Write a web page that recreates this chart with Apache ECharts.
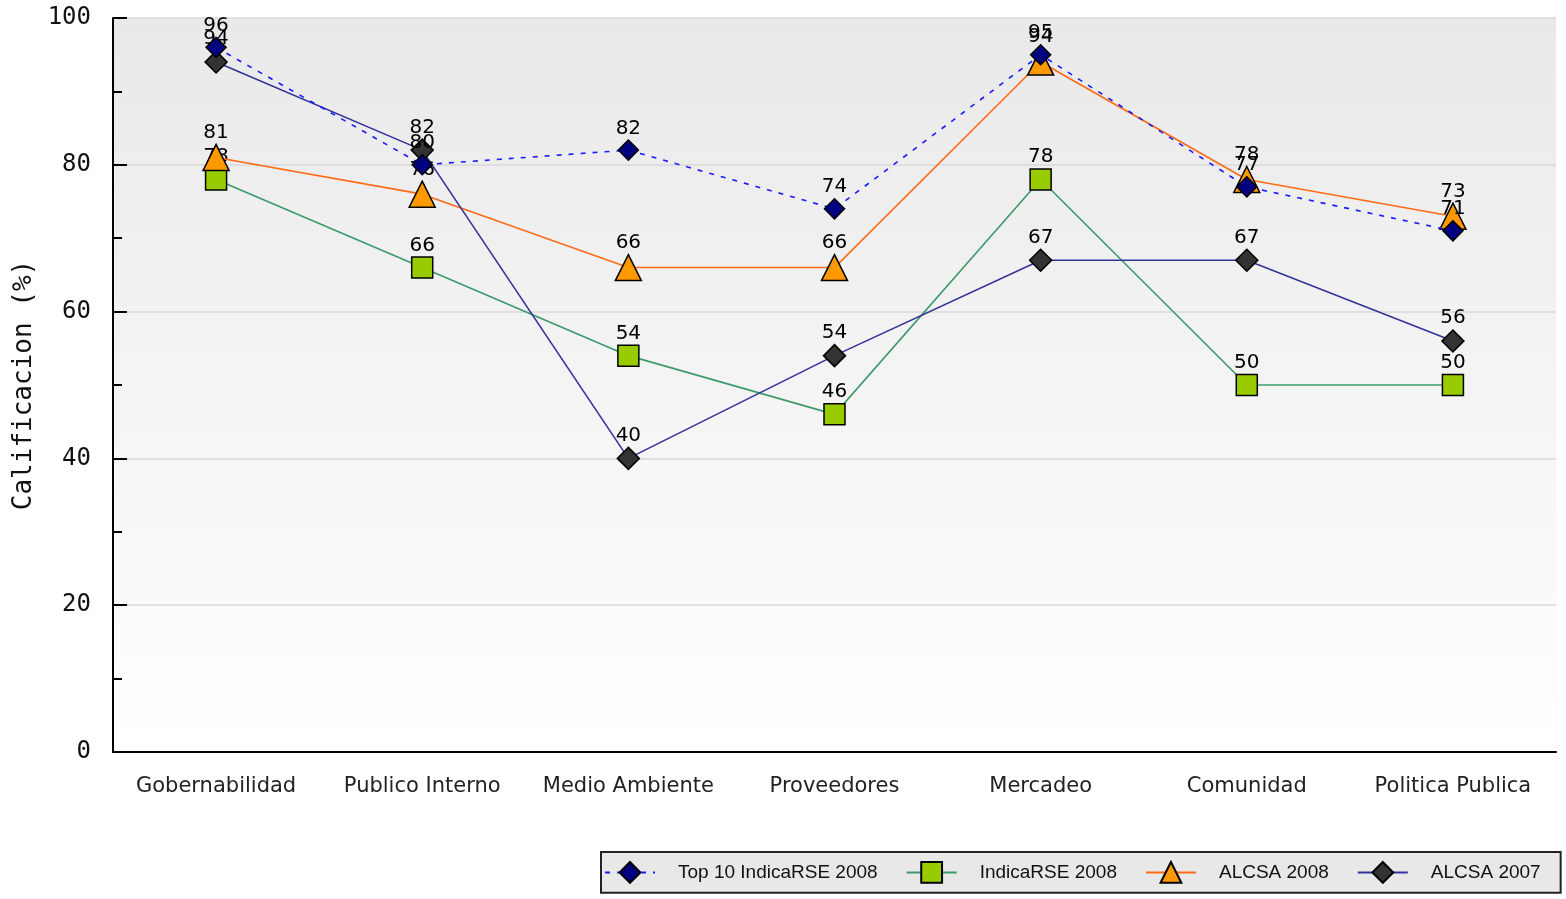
<!DOCTYPE html>
<html><head><meta charset="utf-8">
<script src="https://cdn.jsdelivr.net/npm/echarts@6/dist/echarts.min.js"></script>
<style>html,body{margin:0;padding:0;background:#fff}#c{width:1566px;height:899px}</style>
</head><body><div id="c"></div>
<script>
const categories = ['Gobernabilidad','Publico Interno','Medio Ambiente','Proveedores','Mercadeo','Comunidad','Politica Publica'];
const seriesNames = ['Top 10 IndicaRSE 2008','IndicaRSE 2008','ALCSA 2008','ALCSA 2007'];
const top10_2008 = [96, 80, 82, 74, 95, 77, 71];
const indica_2008 = [78, 66, 54, 46, 78, 50, 50];
const alcsa_2008 = [81, 76, 66, 66, 94, 78, 73];
const alcsa_2007 = [94, 82, 40, 54, 67, 67, 56];
const yTicks = [0, 20, 40, 60, 80, 100];

const chart = echarts.init(document.getElementById('c'));
const lbl = {show:true, position:'top', distance:1, color:'#000', fontSize:20, fontFamily:'DejaVu Sans'};
function mk(name, data, lineColor, lineType, symbol, symbolSize, fill, z){
  return {name, type:'line', data, z,
    symbol, symbolSize, showAllSymbol:true,
    lineStyle:{color:lineColor, width:1.6, type:lineType},
    itemStyle:{color:fill, borderColor:'#000', borderWidth:1.5},
    label:lbl, emphasis:{disabled:true}, animation:false};
}
chart.setOption({
  animation:false,
  grid:{left:113, right:10, top:18, bottom:147, show:true, borderWidth:0,
    backgroundColor:new echarts.graphic.LinearGradient(0,0,0,1,[{offset:0,color:'#e9e9e9'},{offset:1,color:'#ffffff'}])},
  legend:{left:601, top:852, padding:[9,20,9,3], itemGap:28,
    backgroundColor:'#e8e8e8', borderColor:'#222', borderWidth:2, borderRadius:0,
    itemWidth:50, itemHeight:26,
    textStyle:{fontSize:19, fontFamily:'Liberation Sans', color:'#111', padding:[0,0,0,18]},
    data:seriesNames},
  xAxis:{type:'category', data:categories, boundaryGap:true,
    axisLine:{lineStyle:{color:'#000', width:2}},
    axisTick:{alignWithLabel:true, inside:true, length:14, lineStyle:{color:'#000', width:2}},
    axisLabel:{interval:0, margin:24, fontSize:21, color:'#222', fontFamily:'DejaVu Sans'},
    splitLine:{show:false}},
  yAxis:{type:'value', min:yTicks[0], max:yTicks[yTicks.length-1], interval:20,
    name:'Calificacion (%)', nameLocation:'middle', nameGap:71, nameRotate:90,
    nameTextStyle:{fontSize:26, fontFamily:'DejaVu Sans Mono', color:'#111'},
    axisLine:{show:true, lineStyle:{color:'#000', width:2}},
    axisTick:{show:true, inside:true, length:14, lineStyle:{color:'#000', width:2}},
    minorTick:{show:true, splitNumber:2, length:9, lineStyle:{color:'#000', width:2}},
    axisLabel:{margin:22, fontSize:24, fontFamily:'DejaVu Sans Mono', color:'#111'},
    splitLine:{show:true, lineStyle:{color:'#d8d8d8', width:1.5}}},
  series:[
    mk(seriesNames[1], indica_2008, '#3c9a6a', 'solid', 'rect', 21, '#99cc00', 2),
    mk(seriesNames[2], alcsa_2008, '#ff6a14', 'solid', 'triangle', 26, '#ff9900', 3),
    mk(seriesNames[3], alcsa_2007, '#333399', 'solid', 'diamond', 22, '#333333', 4),
    mk(seriesNames[0], top10_2008, '#1a1aff', [5,7], 'diamond', 20, '#000080', 5)
  ]
});
</script></body></html>
